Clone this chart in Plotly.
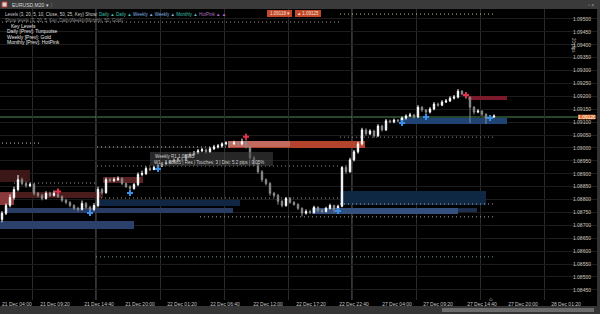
import plotly.graph_objects as go

# ---------------- data ----------------
bar_idx = list(range(124))
opens = [1.08723, 1.08747, 1.08777, 1.08808, 1.08839, 1.08877, 1.08862, 1.08854, 1.08858, 1.08824,
         1.08816, 1.08804, 1.08824, 1.08816, 1.08824, 1.08812, 1.08797, 1.08789, 1.08777, 1.08766,
         1.08762, 1.08785, 1.08770, 1.08762, 1.08777, 1.08839, 1.08827, 1.08877, 1.08874, 1.08877,
         1.08881, 1.08862, 1.08850, 1.08843, 1.08858, 1.08897, 1.08901, 1.08920, 1.08916, 1.08924,
         1.08931, 1.08939, 1.08943, 1.08947, 1.08954, 1.08958, 1.08954, 1.08970, 1.08974, 1.08981,
         1.08989, 1.08993, 1.08985, 1.08997, 1.09004, 1.09008, 1.09016, 1.09020, 1.09016, 1.09020,
         1.09016, 1.09024, 1.09004, 1.08962, 1.08939, 1.08908, 1.08877, 1.08862, 1.08824, 1.08816,
         1.08793, 1.08777, 1.08804, 1.08789, 1.08781, 1.08766, 1.08747, 1.08754, 1.08750, 1.08770,
         1.08758, 1.08754, 1.08766, 1.08777, 1.08762, 1.08774, 1.08924, 1.08908, 1.08954, 1.08985,
         1.09016, 1.09070, 1.09055, 1.09066, 1.09047, 1.09085, 1.09070, 1.09105, 1.09101, 1.09108,
         1.09105, 1.09116, 1.09124, 1.09128, 1.09120, 1.09158, 1.09147, 1.09139, 1.09151, 1.09170,
         1.09166, 1.09178, 1.09182, 1.09193, 1.09197, 1.09220, 1.09209, 1.09197, 1.09158, 1.09139,
         1.09143, 1.09131, 1.09116, 1.09120]
closes = [1.08747, 1.08777, 1.08808, 1.08839, 1.08877, 1.08862, 1.08854, 1.08858, 1.08824, 1.08816,
          1.08804, 1.08824, 1.08816, 1.08824, 1.08812, 1.08797, 1.08789, 1.08777, 1.08766, 1.08762,
          1.08785, 1.08770, 1.08762, 1.08777, 1.08839, 1.08827, 1.08877, 1.08874, 1.08877, 1.08881,
          1.08862, 1.08850, 1.08843, 1.08858, 1.08897, 1.08901, 1.08920, 1.08916, 1.08924, 1.08931,
          1.08939, 1.08943, 1.08947, 1.08954, 1.08958, 1.08954, 1.08970, 1.08974, 1.08981, 1.08989,
          1.08993, 1.08985, 1.08997, 1.09004, 1.09008, 1.09016, 1.09020, 1.09016, 1.09020, 1.09016,
          1.09024, 1.09004, 1.08962, 1.08939, 1.08908, 1.08877, 1.08862, 1.08824, 1.08816, 1.08793,
          1.08777, 1.08804, 1.08789, 1.08781, 1.08766, 1.08747, 1.08754, 1.08750, 1.08770, 1.08758,
          1.08754, 1.08766, 1.08777, 1.08762, 1.08774, 1.08924, 1.08908, 1.08954, 1.08985, 1.09016,
          1.09070, 1.09055, 1.09066, 1.09047, 1.09085, 1.09070, 1.09105, 1.09101, 1.09108, 1.09105,
          1.09116, 1.09124, 1.09128, 1.09120, 1.09158, 1.09147, 1.09139, 1.09151, 1.09170, 1.09166,
          1.09178, 1.09182, 1.09193, 1.09197, 1.09220, 1.09209, 1.09197, 1.09158, 1.09139, 1.09143,
          1.09131, 1.09116, 1.09120, 1.09124]
highs = [1.08755, 1.08785, 1.08820, 1.08850, 1.08895, 1.08885, 1.08870, 1.08866, 1.08864, 1.08830,
         1.08822, 1.08832, 1.08830, 1.08835, 1.08828, 1.08816, 1.08803, 1.08794, 1.08782, 1.08772,
         1.08796, 1.08790, 1.08776, 1.08786, 1.08850, 1.08845, 1.08885, 1.08884, 1.08886, 1.08890,
         1.08886, 1.08866, 1.08855, 1.08864, 1.08905, 1.08912, 1.08928, 1.08926, 1.08930, 1.08938,
         1.08946, 1.08950, 1.08954, 1.08960, 1.08965, 1.08964, 1.08976, 1.08982, 1.08988, 1.08996,
         1.09000, 1.08998, 1.09004, 1.09012, 1.09015, 1.09022, 1.09026, 1.09025, 1.09028, 1.09024,
         1.09036, 1.09030, 1.09010, 1.08968, 1.08945, 1.08914, 1.08882, 1.08868, 1.08830, 1.08822,
         1.08798, 1.08810, 1.08810, 1.08794, 1.08786, 1.08770, 1.08762, 1.08760, 1.08776, 1.08774,
         1.08764, 1.08772, 1.08784, 1.08780, 1.08780, 1.08930, 1.08934, 1.08962, 1.08992, 1.09024,
         1.09078, 1.09076, 1.09072, 1.09070, 1.09092, 1.09090, 1.09112, 1.09110, 1.09114, 1.09112,
         1.09122, 1.09130, 1.09136, 1.09132, 1.09166, 1.09162, 1.09150, 1.09158, 1.09178, 1.09176,
         1.09185, 1.09190, 1.09200, 1.09205, 1.09228, 1.09224, 1.09212, 1.09200, 1.09162, 1.09150,
         1.09146, 1.09134, 1.09126, 1.09130]
lows = [1.08712, 1.08740, 1.08770, 1.08800, 1.08832, 1.08855, 1.08846, 1.08848, 1.08816, 1.08808,
        1.08797, 1.08800, 1.08810, 1.08812, 1.08806, 1.08790, 1.08782, 1.08770, 1.08760, 1.08754,
        1.08758, 1.08764, 1.08745, 1.08756, 1.08770, 1.08820, 1.08822, 1.08868, 1.08868, 1.08872,
        1.08856, 1.08845, 1.08835, 1.08838, 1.08852, 1.08890, 1.08895, 1.08910, 1.08918, 1.08918,
        1.08926, 1.08934, 1.08938, 1.08942, 1.08948, 1.08946, 1.08950, 1.08964, 1.08968, 1.08976,
        1.08984, 1.08978, 1.08980, 1.08992, 1.08998, 1.09002, 1.09010, 1.09010, 1.09012, 1.09008,
        1.09010, 1.08998, 1.08955, 1.08930, 1.08900, 1.08868, 1.08855, 1.08815, 1.08808, 1.08780,
        1.08770, 1.08772, 1.08784, 1.08776, 1.08760, 1.08735, 1.08742, 1.08744, 1.08746, 1.08752,
        1.08748, 1.08750, 1.08762, 1.08750, 1.08756, 1.08770, 1.08900, 1.08904, 1.08948, 1.08978,
        1.09010, 1.09048, 1.09050, 1.09040, 1.09042, 1.09064, 1.09066, 1.09096, 1.09096, 1.09100,
        1.09100, 1.09110, 1.09120, 1.09114, 1.09116, 1.09140, 1.09125, 1.09134, 1.09146, 1.09160,
        1.09162, 1.09174, 1.09178, 1.09188, 1.09192, 1.09204, 1.09190, 1.09097, 1.09130, 1.09135,
        1.09124, 1.09093, 1.09110, 1.09116]

pivot_high_idx = [14, 61, 116]
pivot_high_val = [1.08831, 1.09043, 1.09205]
pivot_low_idx = [22, 32, 39, 84, 100, 106, 122]
pivot_low_val = [1.08748, 1.08825, 1.08918, 1.08756, 1.09097, 1.09120, 1.09116]

# zones: (start idx, end idx, low, high, color)
zones = [
    (-1, 7, 1.08868, 1.08915, "#3b1717"),
    (-1, 3, 1.08779, 1.08829, "#8a3a3a"),
    (3, 25.25, 1.08806, 1.08829, "#4a1c1c"),
    (25.25, 35.25, 1.08864, 1.08887, "#5a2323"),
    (56.5, 90.75, 1.09000, 1.09027, "#b3432d"),
    (56.5, 72, 1.09004, 1.09027, "#c4695d"),
    (116.5, 126.25, 1.09186, 1.09201, "#7a1a2a"),
    (99.5, 126.25, 1.09093, 1.09116, "#1f4373"),
    (84.5, 121, 1.08779, 1.08833, "#0e2742"),
    (77.5, 114, 1.08744, 1.08767, "#34507f"),
    (114, 118.75, 1.08752, 1.08767, "#1e3152"),
    (-1, 33, 1.08686, 1.08717, "#2b416b"),
    (23.75, 59.5, 1.08775, 1.08798, "#0f2744"),
    (1.25, 57.75, 1.08748, 1.08767, "#283c64"),
]

# dotted levels: (start idx, end idx, price, color)
levels = [
    (-1, 84.5, 1.09488, "#9a9a9a"),
    (84.5, 123.25, 1.09519, "#c8b88a"),
    (-1, 9.5, 1.09019, "#bdbdbd"),
    (23.75, 57, 1.09004, "#bdbdbd"),
    (23.75, 84.5, 1.08930, "#8a8a8a"),
    (84.5, 123, 1.09042, "#8a8a8a"),
    (3, 23.75, 1.08864, "#9a9a9a"),
    (23.75, 84.5, 1.08806, "#9a9a9a"),
    (84.5, 123, 1.08783, "#aaaaaa"),
    (49.5, 123, 1.08733, "#aaaaaa"),
    (23.5, 123, 1.08578, "#7f9c9c"),
]

current_price = 1.09120
price_ticks = [1.0950, 1.0945, 1.0940, 1.0935, 1.0930, 1.0925, 1.0920, 1.0915, 1.0910, 1.0905, 1.0900,
               1.0895, 1.0890, 1.0885, 1.0880, 1.0875, 1.0870, 1.0865, 1.0860, 1.0855, 1.0850, 1.0845]
time_tick_idx = [13.25, 24.25, 34.5, 45, 55.75, 66.5, 77.25, 88, 98.75, 109, 120, 130.25, 141]
time_labels = ["21 Dec 09:20", "21 Dec 14:40", "21 Dec 20:00", "22 Dec 01:20",
               "22 Dec 06:40", "22 Dec 12:00", "22 Dec 17:20", "22 Dec 22:40", "27 Dec 04:00",
               "27 Dec 09:20", "27 Dec 14:40", "27 Dec 20:00", "28 Dec 01:20"]
first_time_label = "21 Dec 04:00"

# ---------------- figure ----------------
W, H = 600, 314
def px(x): return x / W
def py(y): return 1 - y / H

FONT = "Liberation Sans, Arial, sans-serif"
fig = go.Figure()

fig.add_trace(go.Candlestick(
    x=bar_idx, open=opens, high=highs, low=lows, close=closes,
    increasing=dict(line=dict(color="#ffffff", width=1), fillcolor="#ffffff"),
    decreasing=dict(line=dict(color="#8c8c8c", width=1), fillcolor="#8c8c8c"),
    whiskerwidth=0, hoverinfo="skip"))
fig.add_trace(go.Scatter(x=pivot_high_idx, y=pivot_high_val, mode="markers",
                         marker=dict(symbol="cross", size=5, color="#e0304a", line=dict(width=0)),
                         hoverinfo="skip"))
fig.add_trace(go.Scatter(x=pivot_low_idx, y=pivot_low_val, mode="markers",
                         marker=dict(symbol="cross", size=5, color="#3a90e8", line=dict(width=0)),
                         hoverinfo="skip"))

shapes = []
for x0, x1, lo, hi, col in zones:
    shapes.append(dict(type="rect", xref="x", yref="y", x0=x0, x1=x1, y0=lo, y1=hi,
                       fillcolor=col, line=dict(width=0), layer="between"))
for x0, x1, p, col in levels:
    shapes.append(dict(type="line", xref="x", yref="y", x0=x0, x1=x1, y0=p, y1=p,
                       line=dict(color=col, width=1, dash="1px,3px"), layer="between"))
# bright day separators
for xi in [23.5, 87.5]:
    shapes.append(dict(type="line", xref="x", yref="paper", x0=xi, x1=xi, y0=py(300), y1=py(9),
                       line=dict(color="#6a6a6a", width=1), layer="below"))
# current price line and tag
shapes.append(dict(type="line", xref="paper", yref="y", x0=0, x1=px(578), y0=current_price, y1=current_price,
                   line=dict(color="#4a8a58", width=1), layer="between"))
shapes.append(dict(type="rect", xref="paper", yref="y", x0=px(578), x1=px(595),
                   y0=current_price - 0.00009, y1=current_price + 0.00009,
                   fillcolor="#e0702c", line=dict(width=0), layer="above"))
# tooltip box
shapes.append(dict(type="rect", xref="paper", yref="paper", x0=px(150), x1=px(273), y0=py(166), y1=py(152),
                   fillcolor="rgba(70,70,70,0.55)", line=dict(width=0), layer="above"))
# top bar
shapes.append(dict(type="rect", xref="paper", yref="paper", x0=0, x1=1, y0=py(9), y1=1,
                   fillcolor="#3a3a3a", line=dict(width=0), layer="above"))
shapes.append(dict(type="rect", xref="paper", yref="paper", x0=px(2), x1=px(7), y0=py(7), y1=py(2),
                   fillcolor="#d8d8d8", line=dict(color="#c0392b", width=1), layer="above"))
# orange buttons
shapes.append(dict(type="rect", xref="paper", yref="paper", x0=px(267), x1=px(292), y0=py(17), y1=py(10),
                   fillcolor="#c4482a", line=dict(width=0), layer="above"))
shapes.append(dict(type="rect", xref="paper", yref="paper", x0=px(295), x1=px(321), y0=py(17), y1=py(10),
                   fillcolor="#c4482a", line=dict(width=0), layer="above"))
# bottom bar and scrollbar
shapes.append(dict(type="rect", xref="paper", yref="paper", x0=0, x1=1, y0=0, y1=py(306),
                   fillcolor="#353535", line=dict(width=0), layer="above"))
shapes.append(dict(type="rect", xref="paper", yref="paper", x0=px(442), x1=px(594), y0=py(312), y1=py(308),
                   fillcolor="#6c6c6c", line=dict(width=0), layer="above"))
# right border
shapes.append(dict(type="rect", xref="paper", yref="paper", x0=px(597), x1=1, y0=py(306), y1=py(9),
                   fillcolor="#333333", line=dict(width=0), layer="above"))

ann = []
def note(x, y, text, color="#d0d0d0", size=5, xanchor="left", angle=0):
    ann.append(dict(x=px(x), y=py(y), xref="paper", yref="paper", text=text, showarrow=False,
                    xanchor=xanchor, yanchor="middle", textangle=angle,
                    font=dict(family=FONT, size=size, color=color)))

note(10, 4.5, "EURUSD,M20 ▾  ⫶", "#d8d8d8")
note(596, 4.5, "▫ ×", "#9a9a9a", xanchor="right")
note(3, 15, "Levels (3, 20, 5, 10, Close, 50, 25, Key) Show: <span style='color:#3fc1b0'>Daily ▲ Daily ▲</span> "
     "<span style='color:#7fb3e0'>Weekly ▲ Weekly ▲</span> <span style='color:#3fc1b0'>Monthly ▲</span> "
     "<span style='color:#b070c0'>HotPink ▲ ▲</span>", "#cfcfcf", 4.5)
note(3, 21, "Show levels (3, 20, 5, Key, Daily/Weekly/Monthly, 50, Gold) ·", "#8a8a8a", 4.5)
note(9, 26, "Key Levels", "#e8e8e8")
note(5, 31, "Daily [Prev]: Turquoise", "#e8e8e8")
note(5, 36.5, "Weekly [Prev]: Gold", "#e8e8e8")
note(5, 42, "Monthly [Prev]: HotPink", "#e8e8e8")
note(279.5, 13.5, "1.09118 ▾", "#f0e0d8", 4.5, "center")
note(308, 13.5, "▴ 1.09125", "#f0e0d8", 4.5, "center")
note(153, 156, "Weekly R1 1.08985", "#cfcfcf", 4.5)
note(152, 162, "W1 · 1.08985 | Res | Touches: 3 | Dist: 5.2 pips | 0.05%", "#cfcfcf", 4.5)
note(586.5, 117, "1.09120", "#ffffff", 5, "center")
note(573, 45, "20 pips", "#bdbdbd", 4.5, "center", 90)
note(491, 299, "⌂", "#e8e8e8", 6, "center")
note(0, 303.5, first_time_label, "#c8c8c8", 5)

fig.update_layout(
    width=W, height=H, margin=dict(l=0, r=0, t=0, b=0),
    paper_bgcolor="#000000", plot_bgcolor="#000000", showlegend=False,
    hovermode=False, shapes=shapes, annotations=ann, boxgap=0.5,
    xaxis=dict(domain=[0, 1], range=[-0.5, 149.5], showgrid=False, zeroline=False,
               rangeslider=dict(visible=False), tickvals=time_tick_idx, ticktext=time_labels,
               ticks="", tickfont=dict(family=FONT, size=5, color="#c8c8c8"), ticklabelstandoff=0,
               minor=dict(tick0=7.5, dtick=16, showgrid=True, gridcolor="#2a2a2a", gridwidth=1, ticks=""),
               fixedrange=True),
    yaxis=dict(domain=[py(300), py(9)], range=[1.084107, 1.095386], side="right",
               anchor="free", position=1, ticklabelposition="inside", ticklabelstandoff=6,
               tickvals=price_ticks, ticktext=[f"{v:.5f}" for v in price_ticks],
               ticks="", tickfont=dict(family=FONT, size=5, color="#cfc6bc"),
               showgrid=True, gridcolor="#1c1c1c", zeroline=False, fixedrange=True),
)

fig.write_html("out.html")
